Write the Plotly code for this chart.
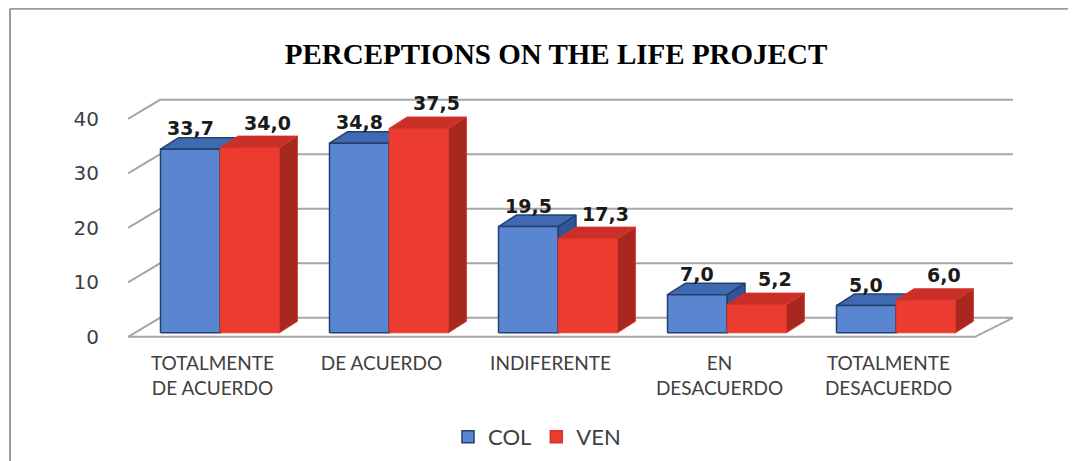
import plotly.graph_objects as go

# data
categories = ["TOTALMENTE<br>DE ACUERDO", "DE ACUERDO", "INDIFERENTE", "EN<br>DESACUERDO", "TOTALMENTE<br>DESACUERDO"]
col_values = [33.7, 34.8, 19.5, 7.0, 5.0]
ven_values = [34.0, 37.5, 17.3, 5.2, 6.0]
y_ticks = [0, 10, 20, 30, 40]
series_names = ["COL", "VEN"]

# the page puts the figure 8px in from the window corner
OFF = 8
W, H = 1076 - OFF, 461 - OFF
L, R, T, B = 128 - OFF, 52, 89 - OFF, 116
PX_PER_X = 169.0    # pixels per category
PX_PER_Y = 5.45     # pixels per value unit
plot_w = W - L - R
plot_h = H - T - B
x_range = [-0.5, -0.5 + plot_w / PX_PER_X]
y_range = [-1.5, -1.5 + plot_h / PX_PER_Y]

# fake 3d offsets (in data units)
WALL_DX, WALL_DY = 32 / PX_PER_X, 19 / PX_PER_Y
SHIFT_X, SHIFT_Y = 7.5 / PX_PER_X, 4 / PX_PER_Y
DEPTH_DX, DEPTH_DY = 18 / PX_PER_X, 11.5 / PX_PER_Y
BAR_W = 59.5 / PX_PER_X
X_END_FRONT = (975 - 128) / PX_PER_X - 0.5
X_END_BACK = (1013 - 128) / PX_PER_X - 0.5

GRID = "#A6A6A6"
colors = {
    "COL": dict(front="#5A86D1", top="#3F69B0", side="#2F5597", line="#253F6E"),
    "VEN": dict(front="#EC3B2F", top="#CB3028", side="#A82820", line="#D8342A"),
}

fig = go.Figure()


def add_lines(xs, ys, color=GRID, width=2):
    fig.add_trace(go.Scatter(x=xs, y=ys, mode="lines", line=dict(color=color, width=width),
                             hoverinfo="skip", showlegend=False))


# back wall gridlines and left diagonals
for v in y_ticks:
    add_lines([-0.5, -0.5 + WALL_DX, X_END_BACK], [v, v + WALL_DY, v + WALL_DY])

# floor front edge and right edge
add_lines([-0.5, X_END_FRONT, X_END_BACK], [0, 0, WALL_DY])


def add_faces(polys, fill, line, width):
    xs, ys = [], []
    for px, py in polys:
        xs += px + [px[0], None]
        ys += py + [py[0], None]
    fig.add_trace(go.Scatter(x=xs, y=ys, mode="lines", fill="toself", fillcolor=fill,
                             line=dict(color=line, width=width), hoverinfo="skip",
                             showlegend=False))


for s, (name, vals) in enumerate(zip(series_names, [col_values, ven_values])):
    c = colors[name]
    fronts, tops, sides = [], [], []
    for i, v in enumerate(vals):
        x0 = i + SHIFT_X + (-BAR_W if s == 0 else 0)
        x1 = x0 + BAR_W
        y0 = SHIFT_Y
        y1 = SHIFT_Y + v
        fronts.append(([x0, x1, x1, x0], [y0, y0, y1, y1]))
        tops.append(([x0, x1, x1 + DEPTH_DX, x0 + DEPTH_DX], [y1, y1, y1 + DEPTH_DY, y1 + DEPTH_DY]))
        sides.append(([x1, x1 + DEPTH_DX, x1 + DEPTH_DX, x1], [y0, y0 + DEPTH_DY, y1 + DEPTH_DY, y1]))
    lw = 1.5 if s == 0 else 0.8
    add_faces(sides, c["side"], c["line"], lw)
    add_faces(tops, c["top"], c["line"], lw)
    add_faces(fronts, c["front"], c["line"], lw)

    # legend only entries
    fig.add_trace(go.Bar(x=[None], y=[None], name=name,
                         marker=dict(color=c["front"], line=dict(color=c["line"], width=1.5))))

    # value labels
    for i, v in enumerate(vals):
        xc = i + SHIFT_X + (-BAR_W / 2 if s == 0 else BAR_W / 2)
        fig.add_annotation(x=xc, y=SHIFT_Y + v, text=f"{v:.1f}".replace(".", ","),
                           showarrow=False, xshift=0 if s == 0 else 18, yshift=21 if s == 0 else 25,
                           font=dict(family="DejaVu Sans", size=19, color="#1A1A1A", weight="bold"))


def paper_x(px):
    # px is a window pixel as seen in the reference
    return (px - OFF - L) / plot_w


def paper_y(py):
    return (H - B - (py - OFF)) / plot_h


# chart frame (left and top edges)
fig.add_shape(type="line", xref="paper", yref="paper", x0=paper_x(10), x1=paper_x(10),
              y0=paper_y(OFF + 0.7), y1=paper_y(470), line=dict(color="#9A9A9A", width=2))
fig.add_shape(type="line", xref="paper", yref="paper", x0=paper_x(10), x1=paper_x(1090),
              y0=paper_y(OFF + 0.7), y1=paper_y(OFF + 0.7), line=dict(color="#9A9A9A", width=2))

fig.update_layout(
    width=W, height=H,
    margin=dict(l=L, r=R, t=T, b=B, autoexpand=False),
    paper_bgcolor="white", plot_bgcolor="white",
    title=dict(text="<b>PERCEPTIONS ON THE LIFE PROJECT</b>", xref="paper", x=paper_x(556),
               xanchor="center", yref="container", y=1 - (54 - OFF) / H, yanchor="middle",
               font=dict(family="Liberation Serif", size=29, color="black")),
    xaxis=dict(range=x_range, showgrid=False, zeroline=False, showline=False,
               tickvals=list(range(len(categories))), ticktext=categories, ticks="",
               ticklabelstandoff=5, automargin=False, fixedrange=True,
               tickfont=dict(family="Lato", size=19, color="#404040")),
    yaxis=dict(range=y_range, showgrid=False, zeroline=False, showline=False,
               tickvals=y_ticks, ticks="", ticklabelstandoff=28, automargin=False,
               fixedrange=True, tickfont=dict(family="DejaVu Sans", size=20, color="#404040")),
    showlegend=True,
    legend=dict(orientation="h", x=paper_x(537), xanchor="center", y=paper_y(437),
                yanchor="middle", font=dict(family="Lato", size=22, color="#404040"),
                itemwidth=30, bgcolor="rgba(0,0,0,0)"),
)

fig.write_html("out.html")
